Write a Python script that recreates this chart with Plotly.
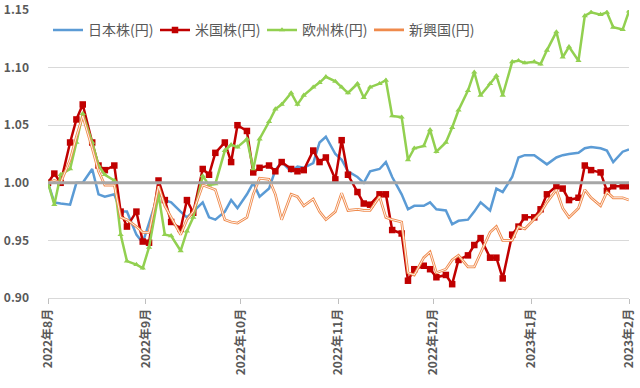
import plotly.graph_objects as go

dates = [
    "2022-08-01", "2022-08-03", "2022-08-05", "2022-08-08", "2022-08-10", "2022-08-12", "2022-08-15",
    "2022-08-17", "2022-08-19", "2022-08-22", "2022-08-24", "2022-08-26", "2022-08-29", "2022-08-31",
    "2022-09-02", "2022-09-05", "2022-09-07", "2022-09-09", "2022-09-12", "2022-09-14", "2022-09-16",
    "2022-09-19", "2022-09-21", "2022-09-23", "2022-09-26", "2022-09-28", "2022-09-30",
    "2022-10-03", "2022-10-05", "2022-10-07", "2022-10-10", "2022-10-12", "2022-10-14", "2022-10-17",
    "2022-10-19", "2022-10-21", "2022-10-24", "2022-10-26", "2022-10-28", "2022-10-31",
    "2022-11-02", "2022-11-04", "2022-11-07", "2022-11-09", "2022-11-11", "2022-11-14", "2022-11-16",
    "2022-11-18", "2022-11-21", "2022-11-23", "2022-11-25", "2022-11-28", "2022-11-30",
    "2022-12-02", "2022-12-05", "2022-12-07", "2022-12-09", "2022-12-12", "2022-12-14", "2022-12-16",
    "2022-12-19", "2022-12-21", "2022-12-23", "2022-12-26", "2022-12-28", "2022-12-30",
    "2023-01-02", "2023-01-04", "2023-01-06", "2023-01-09", "2023-01-11", "2023-01-13", "2023-01-16",
    "2023-01-18", "2023-01-20", "2023-01-23", "2023-01-25", "2023-01-27", "2023-01-30",
    "2023-02-01",
]

japan = [
    1.000, 0.983, 0.982, 0.981, 1.000, 1.000, 1.012, 0.990, 0.988, 0.990, 0.975, 0.975, 0.955, 0.948,
    0.965, 0.991, 0.985, 0.983, 0.975, 0.970, 0.975, 0.983, 0.970, 0.968, 0.975, 0.985, 0.978,
    0.990, 1.000, 0.988, 0.995, 1.011, 1.018, 1.010, 1.014, 1.013, 1.017, 1.035, 1.040, 1.025,
    1.020, 1.010, 1.005, 1.000, 1.010, 1.012, 1.018, 1.005, 0.990, 0.977, 0.980, 0.980, 0.983,
    0.977, 0.976, 0.964, 0.967, 0.968, 0.975, 0.983, 0.976, 0.995, 0.992, 1.005, 1.022, 1.024,
    1.024, 1.020, 1.016, 1.022, 1.024, 1.025, 1.026, 1.030, 1.031, 1.030, 1.028, 1.018, 1.027,
    1.029,
]

usa = [
    1.000, 1.008, 1.000, 1.035, 1.055, 1.068, 1.035, 1.015, 1.011, 1.015, 0.975, 0.962, 0.975, 0.949,
    0.948, 1.002, 0.985, 0.966, 0.960, 0.985, 0.974, 1.012, 1.007, 1.026, 1.035, 1.018, 1.050,
    1.045, 1.009, 1.013, 1.015, 1.010, 1.018, 1.012, 1.010, 1.011, 1.028, 1.018, 1.022, 1.003,
    1.037, 1.007, 0.992, 0.982, 0.981, 0.990, 0.990, 0.959, 0.956, 0.915, 0.925, 0.928, 0.925,
    0.918, 0.920, 0.912, 0.933, 0.937, 0.946, 0.952, 0.935, 0.935, 0.917, 0.955, 0.962, 0.970,
    0.970, 0.977, 0.990, 0.997, 0.995, 0.985, 0.987, 1.015, 1.011, 1.009, 0.993, 0.997, 0.997,
    0.997,
]

europe = [
    1.000, 0.981, 1.007, 1.012, 1.035, 1.060, 1.035, 1.015, 1.007, 1.002, 0.955, 0.932, 0.929, 0.926,
    0.944, 0.990, 0.955, 0.954, 0.941, 0.958, 0.970, 1.006, 0.998, 0.999, 1.028, 1.033, 1.031,
    1.038, 1.012, 1.038, 1.053, 1.064, 1.068, 1.078, 1.068, 1.076, 1.083, 1.087, 1.092, 1.088,
    1.083, 1.078, 1.086, 1.074, 1.083, 1.086, 1.089, 1.058, 1.057, 1.020, 1.030, 1.032, 1.046,
    1.027, 1.035, 1.048, 1.063, 1.080, 1.096, 1.076, 1.086, 1.093, 1.076, 1.105, 1.106, 1.104,
    1.105, 1.103, 1.115, 1.131, 1.109, 1.118, 1.106, 1.145, 1.148, 1.146, 1.148, 1.135, 1.133,
    1.149,
]

emerging = [
    1.000, 1.002, 1.000, 1.020, 1.040, 1.058, 1.030, 1.010, 0.998, 0.998, 0.970, 0.968, 0.962, 0.957,
    0.957, 0.997, 0.980, 0.970, 0.955, 0.968, 0.975, 0.998, 0.996, 0.994, 0.968, 0.966, 0.965,
    0.970, 0.990, 1.004, 1.003, 0.990, 0.968, 0.990, 0.988, 0.980, 0.986, 0.975, 0.968, 0.975,
    0.991, 0.976, 0.977, 0.976, 0.976, 0.988, 0.970, 0.968, 0.966, 0.922, 0.920, 0.935, 0.940,
    0.922, 0.925, 0.933, 0.937, 0.927, 0.927, 0.939, 0.957, 0.962, 0.950, 0.950, 0.962, 0.960,
    0.968, 0.974, 0.983, 0.994, 0.978, 0.970, 0.978, 0.994, 0.987, 0.980, 0.992, 0.987, 0.987,
    0.985,
]

names = ["日本株(円)", "米国株(円)", "欧州株(円)", "新興国(円)"]
baseline = [1.0, 1.0]
baseline_dates = ["2022-08-01", "2023-02-01"]

tick_dates = ["2022-08-01", "2022-09-01", "2022-10-01", "2022-11-01", "2022-12-01", "2023-01-01", "2023-02-01"]
tick_labels = ["2022年8月", "2022年9月", "2022年10月", "2022年11月", "2022年12月", "2023年1月", "2023年2月"]

assert len(japan) == len(dates) == len(usa) == len(europe) == len(emerging)

FONT = "Noto Sans CJK JP, sans-serif"

fig = go.Figure()
fig.add_trace(go.Scatter(x=dates, y=japan, name=names[0], mode="lines",
                         line=dict(color="#5b9bd5", width=2.5)))
fig.add_trace(go.Scatter(x=dates, y=usa, name=names[1], mode="lines+markers",
                         line=dict(color="#c00000", width=2.5),
                         marker=dict(symbol="square", size=6.5, color="#c00000")))
fig.add_trace(go.Scatter(x=dates, y=europe, name=names[2], mode="lines+markers",
                         line=dict(color="#92d050", width=2.5),
                         marker=dict(symbol="triangle-up", size=5.5, color="#92d050")))
fig.add_trace(go.Scatter(x=dates, y=emerging, name=names[3], mode="lines",
                         line=dict(color="#ef8a4c", width=2.7)))
fig.add_trace(go.Scatter(x=dates, y=emerging, showlegend=False, mode="lines",
                         line=dict(color="#ffffff", width=0.9), hoverinfo="skip"))
fig.add_trace(go.Scatter(x=baseline_dates, y=baseline, showlegend=False, mode="lines",
                         line=dict(color="#a6a6a6", width=3), hoverinfo="skip"))

fig.update_layout(
    width=640, height=388,
    margin=dict(l=48, r=11, t=10, b=90, autoexpand=False),
    paper_bgcolor="white", plot_bgcolor="white",
    font=dict(family=FONT, color="#595959"),
    legend=dict(orientation="h", x=0.0, xanchor="left", y=0.985, yanchor="top",
                font=dict(size=14, color="#595959", family=FONT), bgcolor="rgba(0,0,0,0)",
                itemwidth=30, entrywidth=62, entrywidthmode="pixels", tracegroupgap=0),
    showlegend=True,
)
fig.update_xaxes(
    type="date", range=["2022-08-01", "2023-02-01"],
    tickvals=tick_dates, ticktext=tick_labels, tickangle=-90,
    tickfont=dict(size=12, color="#595959", family=FONT, weight="bold"),
    showgrid=False, showline=True, linecolor="#d9d9d9", linewidth=1,
    ticks="outside", ticklen=5, tickcolor="#bfbfbf", zeroline=False, automargin=False,
)
fig.update_yaxes(
    range=[0.90, 1.15], dtick=0.05, tickformat=".2f",
    tickfont=dict(size=12, color="#595959", family=FONT, weight="bold"),
    showgrid=True, gridcolor="#d9d9d9", gridwidth=1, zeroline=False, showline=False,
    ticklabelstandoff=18, automargin=False,
)

fig.write_html("out.html", config={"displayModeBar": False},
               post_script="document.body.style.margin='0';document.body.style.padding='0';")
